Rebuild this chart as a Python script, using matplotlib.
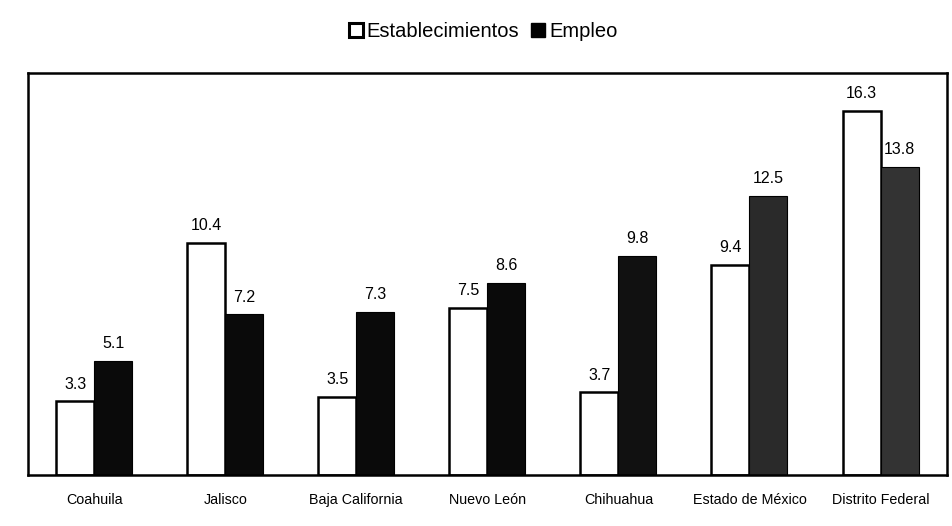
import matplotlib
matplotlib.use("Agg")
import matplotlib.pyplot as plt
import numpy as np
from matplotlib.patches import Patch

plt.rcParams['font.family'] = ['Liberation Sans', 'DejaVu Sans']

estados = ["Coahuila", "Jalisco", "Baja California", "Nuevo León",
           "Chihuahua", "Estado de México", "Distrito Federal"]
establecimientos = [3.3, 10.4, 3.5, 7.5, 3.7, 9.4, 16.3]
empleo = [5.1, 7.2, 7.3, 8.6, 9.8, 12.5, 13.8]

empleo_colores = ["#0a0a0a", "#0a0a0a", "#0a0a0a", "#0a0a0a",
                  "#111111", "#2a2a2a", "#333333"]

fig = plt.figure(figsize=(9.53, 5.26), dpi=100)
ax = fig.add_axes([0.0294, 0.097, 0.964, 0.764])

x = np.arange(len(estados))
w = 0.29

b1 = ax.bar(x - w / 2, establecimientos, w, color="white",
            edgecolor="black", linewidth=1.8)
b2 = ax.bar(x + w / 2, empleo, w, color=empleo_colores,
            edgecolor="black", linewidth=0.8)

for bars, vals in ((b1, establecimientos), (b2, empleo)):
    for r, v in zip(bars, vals):
        ax.annotate(f"{v:.1f}", (r.get_x() + r.get_width() / 2, v),
                    xytext=(0, 7), textcoords="offset points",
                    ha="center", va="bottom", fontsize=11.5)

ax.set_xlim(-0.505, 6.505)
ax.set_ylim(0, 18)
ax.set_yticks([])
ax.set_xticks(x)
ax.set_xticklabels(estados, fontsize=10.3)
ax.tick_params(axis="x", length=0, pad=13)
for s in ax.spines.values():
    s.set_linewidth(1.8)
    s.set_color("black")

handles = [Patch(facecolor="white", edgecolor="black", linewidth=2.2),
           Patch(facecolor="black", edgecolor="black")]
fig.legend(handles, ["Establecimientos", "Empleo"], loc="center",
           bbox_to_anchor=(0.507, 0.940), ncol=2, frameon=False,
           fontsize=14.5, handlelength=0.7, handleheight=0.7,
           handletextpad=0.2, columnspacing=0.6)

fig.savefig("out.png", dpi=100, facecolor="white")
